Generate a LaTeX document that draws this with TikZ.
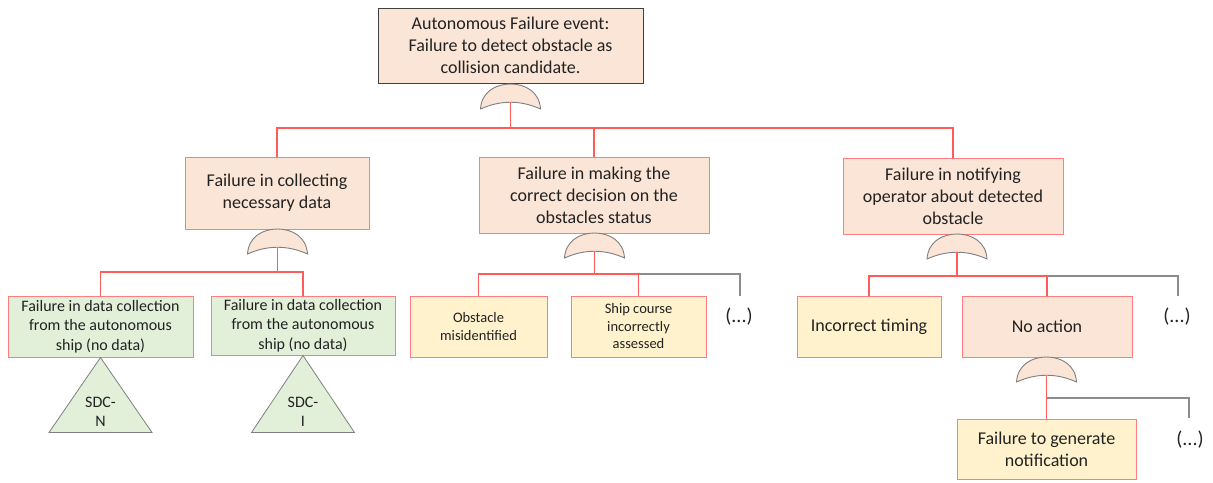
\documentclass[tikz,border=0pt]{standalone}
\usepackage{fontspec}
\setmainfont{Carlito}
\definecolor{peach}{HTML}{FBE5D6}
\definecolor{cream}{HTML}{FFF2CC}
\definecolor{mint}{HTML}{E2F0D9}
\definecolor{boxred}{HTML}{FF7C80}
\definecolor{linered}{HTML}{FF5B5B}
\definecolor{linegray}{HTML}{8C8C8C}
\definecolor{topborder}{HTML}{404040}
\definecolor{gateborder}{HTML}{7F7F7F}
\definecolor{ink}{HTML}{222222}
\tikzset{
  box/.style={draw=boxred, line width=1pt, fill=#1, align=center, inner sep=0pt,
    text=ink, font=\fontsize{18}{22}\selectfont},
  topbox/.style={draw=topborder, line width=0.9pt, fill=peach, align=center, inner sep=0pt,
    text=ink, font=\fontsize{18}{22}\selectfont},
  smalltext/.style={font=\fontsize{16}{19.5}\selectfont},
  tinytext/.style={font=\fontsize{14.5}{17.5}\selectfont},
  dots/.style={text=ink, font=\fontsize{20}{24}\selectfont, inner sep=0pt},
  redline/.style={draw=linered, line width=1.1pt},
  grayline/.style={draw=linegray, line width=1.1pt},
  triline/.style={draw=gateborder, line width=0.8pt, fill=mint},
  orgate/.pic={
    \draw[draw=gateborder, line width=0.9pt, fill=peach]
      (-30,25) .. controls (-29,8) and (-15,0) .. (0,0)
      .. controls (15,0) and (29,8) .. (30,25)
      .. controls (10,16) and (-10,16) .. cycle;
    \coordinate (-out) at (0,18);
  }
}
\begin{document}
\begin{tikzpicture}[x=1pt,y=-1pt]
\useasboundingbox (0,0) rectangle (1213,482);

% top event
\node[topbox, minimum width=265pt, minimum height=75pt] (top) at (510.5,45.5)
  {Autonomous Failure event:\\Failure to detect obstacle as\\collision candidate.};
\pic (gT) at (510.5,84) {orgate};

% intermediate events
\node[box=peach, minimum width=184pt, minimum height=72pt] (A) at (277,193)
  {Failure in collecting\\necessary data};
\node[box=peach, minimum width=230pt, minimum height=76pt] (B) at (594,195)
  {Failure in making the\\correct decision on the\\obstacles status};
\node[box=peach, minimum width=220pt, minimum height=76pt] (C) at (953,196)
  {Failure in notifying\\operator about detected\\obstacle};

\pic (gA) at (277.5,229) {orgate};
\pic (gB) at (594.5,233) {orgate};
\pic (gC) at (957,234) {orgate};

% branch A
\node[box=mint, smalltext, minimum width=185pt, minimum height=61pt] (G1) at (100.5,326.5)
  {Failure in data collection\\from the autonomous\\ship (no data)};
\node[box=mint, smalltext, minimum width=184pt, minimum height=59pt] (G2) at (303,325.5)
  {Failure in data collection\\from the autonomous\\ship (no data)};

% branch B
\node[box=cream, tinytext, minimum width=137pt, minimum height=61pt] (Y1) at (478.5,326.5)
  {Obstacle\\misidentified};
\node[box=cream, tinytext, minimum width=135pt, minimum height=61pt] (Y2) at (638.5,326.5)
  {Ship course\\incorrectly\\assessed};
\node[dots] (d1) at (739,317) {(...)};
\coordinate (e1) at (740,296);

% branch C
\node[box=cream, minimum width=144pt, minimum height=61pt] (Y3) at (869,326.5)
  {Incorrect timing};
\node[box=peach, minimum width=170pt, minimum height=61pt] (P) at (1047,326.5)
  {No action};
\node[dots] (d2) at (1177,317) {(...)};
\coordinate (e2) at (1178,296);

\pic (gD) at (1046.5,357) {orgate};
\node[box=cream, minimum width=179pt, minimum height=60pt] (Y4) at (1046.5,449)
  {Failure to generate\\notification};
\node[dots] (d3) at (1190,440) {(...)};
\coordinate (e3) at (1189,418);

% transfer triangles
\draw[triline] (G1.south) -- ++(51.5,75) -- ++(-103,0) -- cycle;
\draw[triline] (G2.south) -- ++(51.5,77) -- ++(-103,0) -- cycle;
\node[smalltext, text=ink, align=center, inner sep=0pt] (t1) at (100.5,412) {SDC-\\N};
\node[smalltext, text=ink, align=center, inner sep=0pt] (t2) at (303,412) {SDC-\\I};

% connectors
\coordinate (busT) at (510.5,128);
\draw[redline] (gT-out) -- (busT);
\draw[redline] (A.north) |- (busT) -| (C.north);
\draw[redline] (busT) -| (B.north);

\coordinate (busA) at (277.5,272);
\draw[redline] (gA-out) -- (busA);
\draw[redline] (G1.north) |- (busA) -| (G2.north);

\coordinate (busB) at (594.5,274);
\draw[redline] (gB-out) -- (busB);
\draw[redline] (Y1.north) |- (busB) -| (Y2.north);
\draw[grayline] (Y2.north |- busB) -| (e1);

\coordinate (busC) at (957,276);
\draw[redline] (gC-out) -- (busC);
\draw[redline] (Y3.north) |- (busC) -| (P.north);
\draw[grayline] (P.north |- busC) -| (e2);

\coordinate (busD) at (1046.5,398);
\draw[redline] (gD-out) -- (Y4.north);
\draw[grayline] (busD) -| (e3);
\end{tikzpicture}
\end{document}
